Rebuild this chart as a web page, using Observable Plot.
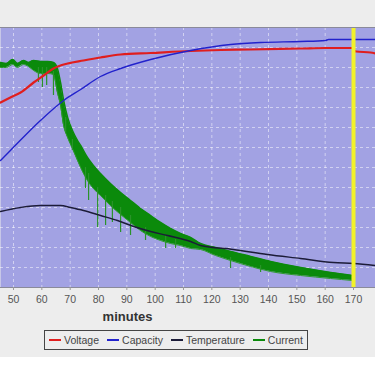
<!DOCTYPE html>
<html>
<head>
<meta charset="utf-8">
<script src="https://cdn.jsdelivr.net/npm/d3@7"></script>
<script src="https://cdn.jsdelivr.net/npm/@observablehq/plot@0.6"></script>
<style>
  html, body { margin: 0; padding: 0; background: #ffffff; }
  #wrap { position: relative; width: 375px; height: 357px; background: #ededed; overflow: hidden; font-family: "Liberation Sans", Arial, sans-serif; }
  #wrap svg { position: absolute; left: 0; top: 0; }
  #xlabel { position: absolute; left: 0; width: 255px; top: 310px; line-height: 14px; text-align: center; font-weight: bold; font-size: 13px; color: #333; }
  #legend { position: absolute; left: 44px; top: 330px; width: 264px; height: 20px; box-sizing: border-box; border: 1.5px solid #444; display: flex; align-items: center; padding-left: 4px; gap: 8px; font-size: 10.5px; color: #444; }
  .item { display: flex; align-items: center; gap: 3px; white-space: nowrap; }
  .sw { width: 12px; height: 2px; }
</style>
</head>
<body>
<div id="wrap">
  <div id="xlabel"></div>
  <div id="legend"></div>
</div>
<script>
// x: minutes ; y: normalized chart units (0 = bottom of plot, 130 = top)
const xTicks = [50, 60, 70, 80, 90, 100, 110, 120, 130, 140, 150, 160, 170];
const yGrid = [10, 20, 30, 40, 50, 60, 70, 80, 90, 100, 110, 120];
const seriesNames = ["Voltage", "Capacity", "Temperature", "Current"];
const seriesColors = ["#e01e1e", "#2222cc", "#1c1c38", "#0b8a0b"];
const xLabel = "minutes";
const markerMinute = 170;

const voltage = [
  [45.4, 92.5], [48.9, 95], [52.5, 97.5], [57.1, 102.5], [60.6, 106], [64.1, 109.5],
  [69.1, 112], [74.7, 113.5], [80.7, 115], [87.8, 116.5], [98.4, 117.25], [112.5, 118.25],
  [123.1, 118.75], [133.7, 119], [151.3, 119.5], [160.1, 119.75], [169.6, 119.75],
  [170.4, 118.25], [171, 118], [176, 117.5], [177.8, 117]
];
const capacity = [
  [45.4, 63.5], [48.9, 68.5], [59.5, 83.5], [67.7, 93.5], [73.7, 99], [80.7, 105.5],
  [87.8, 109.5], [98.4, 114], [112.5, 118.5], [126.6, 121.5], [137.2, 122.5],
  [151.3, 123], [160.1, 123.5], [161.2, 124], [177.8, 124]
];
const temperature = [
  [45.4, 38], [52.5, 40], [59.5, 41], [66.6, 41], [70.1, 40], [74.7, 38.5], [80.7, 36],
  [86.7, 33.5], [92.4, 30.5], [98.4, 28], [104.4, 26], [112.5, 23], [116, 21],
  [127.6, 19], [139.6, 16.5], [151.3, 14.5], [162.9, 12.5], [170, 12], [177.8, 11]
];
// current: [minute, upper edge, lower edge] of the noisy band
const current = [
  [45.4, 112.5, 110], [47.5, 112, 110], [49.7, 114, 111.5], [51.4, 112, 110],
  [53.5, 113.5, 111.5], [55.3, 112.5, 110.5], [57.1, 113.5, 108.5], [59.5, 113, 107],
  [62.0, 113, 107], [64.1, 112.5, 106.5], [65.5, 109.5, 97.5], [66.6, 102.5, 91],
  [67.7, 93.5, 81], [69.1, 85, 75], [70.8, 78.5, 69.5], [72.6, 73.5, 63.5],
  [73.7, 71, 60], [76.1, 65, 53.5], [78.2, 61, 49.5], [80.7, 57, 46], [84.2, 52, 41],
  [87.8, 47.5, 36.5], [91.3, 43.5, 32.5], [94.8, 39.5, 28.5], [98.4, 36, 25.5],
  [101.9, 32.5, 23.5], [105.4, 29.5, 22], [108.9, 27, 21], [112.5, 25, 19.5],
  [116.0, 22, 19], [121.3, 20, 16], [126.6, 18, 13.5], [133.7, 15.5, 10.5],
  [140.7, 13, 8], [151.3, 10, 6], [161.9, 7.5, 4.5], [169.6, 6, 3.5]
];
// downward noise spikes of the current: [minute, top, bottom]
const currentSpikes = [
  [58.8, 110, 102.5], [60.2, 110, 100], [61.7, 110, 101], [64.1, 108, 96],
  [68.4, 85, 77], [70.8, 74, 68.5], [75.4, 60, 49.5], [76.5, 57, 43.5],
  [79.7, 50, 30], [82.5, 46, 31], [84.9, 43, 32.5], [87.8, 40, 27.5],
  [91.3, 36, 26], [96.6, 30, 23.5], [103.7, 26, 19.5], [107.2, 24, 19.5],
  [126.6, 15, 9.5], [137.2, 11, 7.5]
];

const curve = "monotone-x";
const chart = Plot.plot({
  width: 375,
  height: 306,
  marginLeft: 0,
  marginRight: 0,
  marginTop: 27,
  marginBottom: 19,
  style: { background: "transparent", fontFamily: "'Liberation Sans', Arial, sans-serif", fontSize: "10.5px", color: "#555" },
  x: { domain: [45.41, 177.76] },
  y: { domain: [0, 130], axis: null },
  marks: [
    Plot.frame({ fill: "#a2a2e3", stroke: null }),
    Plot.gridY(yGrid, { stroke: "white", strokeOpacity: 0.5, strokeDasharray: "3,3" }),
    Plot.gridX(xTicks, { stroke: "white", strokeOpacity: 0.5, strokeDasharray: "3,3" }),
    Plot.areaY(current, { x: d => d[0], y1: d => d[2], y2: d => d[1], fill: seriesColors[3], curve }),
    Plot.line(current, { x: d => d[0], y: d => d[1], stroke: seriesColors[3], strokeWidth: 1.5, curve }),
    Plot.line(current, { x: d => d[0], y: d => d[2], stroke: "#2d9a2d", strokeWidth: 1, curve }),
    Plot.ruleX(currentSpikes, { x: d => d[0], y1: d => d[1], y2: d => d[2], stroke: "#2a932a", strokeWidth: 1.2 }),
    Plot.line(voltage, { x: d => d[0], y: d => d[1], stroke: seriesColors[0], strokeWidth: 2.2, curve }),
    Plot.line(capacity, { x: d => d[0], y: d => d[1], stroke: seriesColors[1], strokeWidth: 1.4, curve }),
    Plot.line(temperature, { x: d => d[0], y: d => d[1], stroke: seriesColors[2], strokeWidth: 1.4, curve }),
    Plot.ruleX([markerMinute], { stroke: "#f2f22a", strokeWidth: 4 }),
    Plot.ruleY([0, 130], { stroke: "#8a8a9a", strokeWidth: 1.2 }),
    Plot.axisX(xTicks, { tickSize: 3, tickPadding: 5, stroke: "#999", fill: "#555", fontSize: 10.5, tickFormat: d => String(d) })
  ]
});
document.getElementById("wrap").prepend(chart);

document.getElementById("xlabel").textContent = xLabel;
const legend = document.getElementById("legend");
seriesNames.forEach((name, i) => {
  const item = document.createElement("div");
  item.className = "item";
  const sw = document.createElement("div");
  sw.className = "sw";
  sw.style.background = seriesColors[i];
  const t = document.createElement("span");
  t.textContent = name;
  item.append(sw, t);
  legend.append(item);
});
</script>
</body>
</html>
